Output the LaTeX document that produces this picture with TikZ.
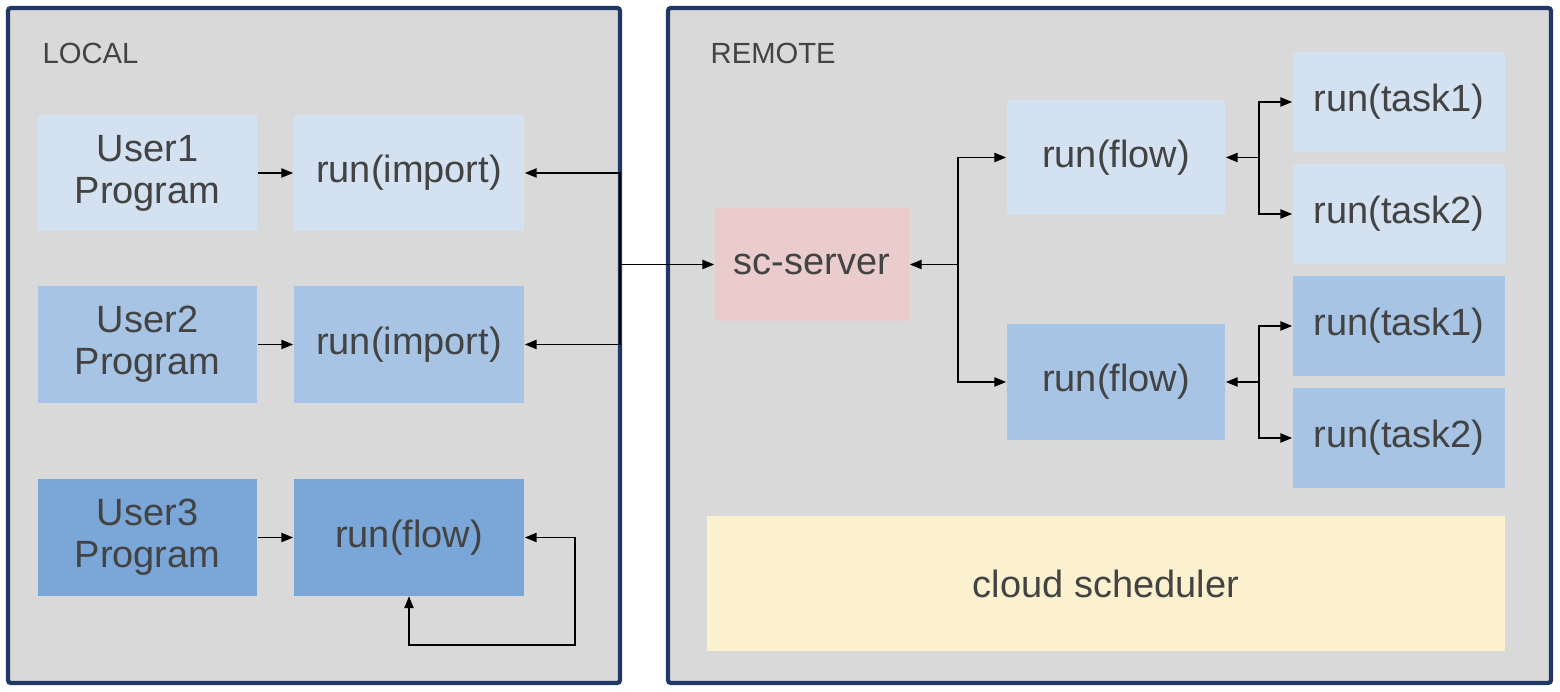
\documentclass[tikz,border=0pt]{standalone}
\usepackage{fontspec}
\setmainfont{Liberation Sans}
\usetikzlibrary{arrows.meta}
\definecolor{frameblue}{HTML}{1F3864}
\definecolor{panelgray}{HTML}{D9D9D9}
\definecolor{paleblue}{HTML}{D3E1F1}
\definecolor{midblue}{HTML}{A7C4E5}
\definecolor{deepblue}{HTML}{7BA6D8}
\definecolor{serverpink}{HTML}{EACCCC}
\definecolor{schedyellow}{HTML}{FCF1CF}
\definecolor{textgray}{HTML}{434343}
\tikzset{
  panel/.style={draw=frameblue, line width=1.2pt, fill=panelgray, rounded corners=0.8pt},
  tag/.style={anchor=west, inner sep=0pt, text=textgray, font=\fontsize{8.3}{10}\selectfont},
  box/.style={inner sep=0pt, text=textgray, align=center, font=\fontsize{10.8}{12}\selectfont},
  prog/.style={box, minimum width=21.9mm, minimum height=11.6mm},
  call/.style={box, minimum width=23mm, minimum height=11.6mm},
  flowbox/.style={box, minimum width=21.8mm, minimum height=11.5mm},
  taskbox/.style={box, minimum width=21.2mm, minimum height=10mm},
  >={Triangle[length=3.4pt,width=2.6pt]},
  link/.style={->, line width=0.55pt, black},
}

\begin{document}
\begin{tikzpicture}[x=0.01cm,y=-0.01cm]
  \useasboundingbox (0,0) rectangle (1560,692);
  % the two panels
  \draw[panel] (8,8) rectangle (620,683);
  \draw[panel] (668,8) rectangle (1551,683);
  \node[tag]    (local)     at (42,53) {LOCAL};
  \node[tag]    (remote)    at (710,53) {REMOTE};
  % Local side
  \node[prog,fill=paleblue]  (user1) at (147.5,173)   {User1\\Program};
  \node[call,fill=paleblue]  (imp1)  at (409,173)     {run(import)};
  \node[prog,fill=midblue]   (user2) at (147.5,344.5) {User2\\Program};
  \node[call,fill=midblue]   (imp2)  at (409,344.5)   {run(import)};
  \node[prog,fill=deepblue]  (user3) at (147.5,537.5) {User3\\Program};
  \node[call,fill=deepblue]  (flow0) at (409,537.5)   {run(flow)};
  % Remote side
  \node[box,fill=serverpink,minimum width=19.4mm,minimum height=11.3mm] (server) at (812,264.5) {sc-server};
  \node[flowbox,fill=paleblue] (flowA) at (1116,157.5) {run(flow)};
  \node[flowbox,fill=midblue]  (flowB) at (1116,382)   {run(flow)};
  \node[taskbox,fill=paleblue] (t1a)   at (1399,102)   {run(task1)};
  \node[taskbox,fill=paleblue] (t2a)   at (1399,214)   {run(task2)};
  \node[taskbox,fill=midblue]  (t1b)   at (1399,326)   {run(task1)};
  \node[taskbox,fill=midblue]  (t2b)   at (1399,438)   {run(task2)};
  \node[box,fill=schedyellow,minimum width=79.8mm,minimum height=13.5mm] (sched) at (1106,583.5) {cloud scheduler};
  % connectors
  \coordinate (bus)   at (620,264.5);
  \coordinate (loop)  at (575,645);
  \coordinate (forkS) at (958,264.5);
  \coordinate (forkA) at (1259,157.5);
  \coordinate (forkB) at (1259,382);
  \draw[link] (user1) -- (imp1);
  \draw[link] (user2) -- (imp2);
  \draw[link] (user3) -- (flow0);
  \draw[link] (bus) |- (imp1);
  \draw[link] (bus) |- (imp2);
  \draw[link] (bus) -- (server);
  \draw[link,<->] (flow0.east) -| (loop) -| (flow0.south);
  \draw[link] (forkS) -- (server);
  \draw[link] (forkS) |- (flowA);
  \draw[link] (forkS) |- (flowB);
  \draw[link] (forkA) -- (flowA);
  \draw[link] (forkA) |- (t1a);
  \draw[link] (forkA) |- (t2a);
  \draw[link] (forkB) -- (flowB);
  \draw[link] (forkB) |- (t1b);
  \draw[link] (forkB) |- (t2b);
\end{tikzpicture}
\end{document}
